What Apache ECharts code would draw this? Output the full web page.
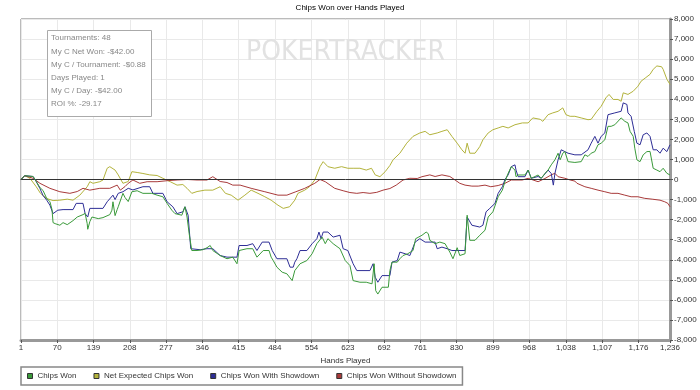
<!DOCTYPE html>
<html>
<head>
<meta charset="utf-8">
<script src="https://cdn.jsdelivr.net/npm/echarts@6/dist/echarts.min.js"></script>
<style>
html,body{margin:0;padding:0;background:#fff;}
#chart{width:700px;height:390px;}
</style>
</head>
<body>
<div id="chart"></div>
<script>
var titleText = 'Chips Won over Hands Played';
var xAxisName = 'Hands Played';
var seriesNames = ['Chips Won', 'Net Expected Chips Won', 'Chips Won With Showdown', 'Chips Won Without Showdown'];
var xTicks = [1,70,139,208,277,346,415,484,554,623,692,761,830,899,968,1038,1107,1176,1236];
var statLines = ['Tournaments: 48','My C Net Won: -$42.00','My C / Tournament: -$0.88','Days Played: 1','My C / Day: -$42.00','ROI %: -29.17'];
var watermark = 'POKERTRACKER';

var chipsWon = [
[1,0],[8,190],[24,150],[30,-100],[37,-400],[43,-550],[50,-950],[56,-1100],[60,-1500],[62,-2150],[66,-2200],[75,-2280],[81,-2150],[89,-2250],[100,-2050],[108,-1870],[119,-1750],[123,-1690],[127,-2200],[128,-2480],[132,-2100],[136,-1870],[148,-1950],[157,-1900],[170,-1750],[174,-1530],[176,-1110],[180,-1800],[184,-1500],[186,-1360],[195,-690],[199,-900],[205,-1100],[212,-610],[222,-560],[233,-690],[250,-690],[260,-780],[271,-860],[279,-1190],[288,-1530],[294,-1700],[307,-1780],[313,-1360],[317,-1870],[321,-2700],[326,-3540],[336,-3540],[347,-3500],[355,-3400],[361,-3290],[366,-3540],[380,-3790],[393,-3950],[404,-3870],[412,-4200],[416,-3540],[431,-3450],[442,-3450],[450,-3870],[462,-3540],[473,-3540],[477,-3870],[481,-4040],[488,-4370],[498,-4620],[507,-4700],[517,-5040],[522,-4540],[532,-4200],[545,-4040],[555,-3700],[564,-3200],[574,-2870],[580,-3200],[585,-2950],[595,-3200],[608,-3450],[618,-4040],[627,-4290],[633,-5040],[646,-5120],[658,-5120],[669,-5200],[673,-4200],[676,-5540],[680,-5710],[688,-5370],[700,-5370],[703,-4540],[707,-4120],[717,-4120],[722,-3950],[728,-3790],[737,-3700],[747,-3540],[752,-2950],[764,-2780],[772,-2620],[776,-2700],[779,-3030],[789,-3200],[798,-3120],[808,-3200],[817,-3620],[823,-3950],[831,-3400],[836,-3790],[846,-3700],[850,-1780],[855,-3030],[865,-3030],[874,-2780],[884,-2530],[890,-1870],[899,-1610],[909,-860],[917,-530],[922,-100],[928,310],[934,640],[941,470],[943,140],[947,225],[960,225],[966,470],[972,60],[985,225],[991,60],[998,300],[1004,470],[1010,730],[1017,980],[1023,1310],[1027,980],[1032,1310],[1036,1390],[1042,890],[1055,850],[1067,890],[1074,1230],[1080,1150],[1086,1310],[1093,1390],[1099,1730],[1105,1810],[1112,1980],[1118,2650],[1124,2650],[1131,2730],[1143,3070],[1150,2900],[1156,2820],[1160,2400],[1166,2150],[1169,1560],[1173,980],[1179,890],[1185,1230],[1192,1390],[1198,1400],[1204,560],[1211,470],[1217,390],[1223,560],[1226,470],[1230,310],[1236,225]
];

var netExpected = [
[1,0],[8,190],[18,60],[30,-360],[38,-690],[50,-950],[62,-1050],[75,-1030],[89,-980],[100,-1030],[113,-780],[127,-360],[132,-110],[138,-190],[151,-110],[157,-25],[165,560],[170,640],[180,470],[186,230],[195,-190],[205,-100],[212,390],[222,350],[233,300],[246,230],[260,200],[271,60],[285,-110],[298,-280],[309,-250],[317,-440],[326,-690],[336,-600],[351,-530],[366,-530],[380,-360],[390,-690],[401,-780],[414,-1030],[427,-780],[439,-530],[452,-690],[465,-860],[477,-1030],[490,-1280],[500,-1440],[512,-1360],[522,-1030],[528,-690],[541,-530],[550,-360],[560,-25],[570,640],[576,890],[585,640],[598,560],[611,640],[623,560],[633,560],[646,560],[658,470],[668,560],[675,230],[684,140],[694,390],[703,700],[709,980],[722,1310],[735,1810],[747,2150],[760,2320],[770,2400],[779,2230],[793,2320],[802,2400],[812,2480],[821,2150],[831,1810],[840,1480],[846,1310],[850,1810],[855,1310],[865,1310],[874,1640],[880,1980],[890,2320],[899,2480],[909,2570],[918,2650],[928,2570],[941,2730],[955,2820],[966,2820],[975,3070],[989,3000],[994,2900],[1004,3230],[1013,3320],[1023,3400],[1032,3570],[1038,3230],[1046,3150],[1055,3150],[1067,3070],[1080,2980],[1086,3000],[1097,3400],[1105,3650],[1114,4070],[1120,4240],[1128,3990],[1137,3990],[1143,3900],[1147,4320],[1156,4240],[1166,4400],[1175,4650],[1181,4900],[1190,5080],[1198,5240],[1204,5490],[1211,5660],[1220,5620],[1223,5490],[1230,5000],[1236,4740]
];

var withShowdown = [
[1,0],[8,190],[24,150],[30,-100],[37,-450],[43,-800],[50,-1030],[56,-1280],[62,-1700],[71,-1530],[81,-1500],[100,-1500],[106,-1190],[119,-1190],[123,-1700],[128,-1870],[132,-1440],[157,-1440],[165,-1110],[176,-780],[180,-1000],[186,-690],[195,-610],[205,-440],[214,-520],[233,-360],[246,-360],[252,-690],[271,-690],[279,-1110],[290,-1360],[298,-1700],[309,-1610],[313,-1360],[319,-1780],[324,-3450],[342,-3500],[355,-3450],[366,-3450],[380,-3790],[393,-3870],[412,-3870],[416,-3290],[431,-3290],[442,-3200],[450,-3540],[460,-3120],[473,-3120],[479,-3540],[488,-3950],[507,-3950],[513,-4370],[519,-4370],[522,-4120],[526,-3950],[532,-3540],[545,-3540],[555,-3200],[564,-2950],[568,-2620],[572,-2950],[576,-2620],[585,-2620],[595,-2870],[608,-2780],[614,-3450],[623,-3540],[633,-4200],[640,-4540],[665,-4540],[671,-4200],[675,-4870],[680,-5120],[688,-4790],[703,-4790],[707,-4120],[717,-4040],[722,-3620],[732,-3700],[741,-3790],[751,-3120],[760,-2950],[770,-3120],[789,-3120],[793,-3450],[802,-3370],[812,-3450],[821,-3540],[846,-3540],[850,-1870],[859,-2280],[874,-2370],[880,-2280],[886,-1610],[893,-1440],[903,-1190],[909,-690],[917,-360],[922,0],[928,230],[934,640],[941,730],[943,470],[947,140],[960,140],[966,470],[972,60],[985,150],[991,60],[1004,470],[1010,300],[1014,-280],[1017,300],[1023,980],[1029,1480],[1042,1310],[1055,1230],[1067,1230],[1080,1480],[1086,1810],[1093,2150],[1099,1810],[1105,2150],[1112,2320],[1118,3230],[1131,3320],[1143,3400],[1147,3820],[1154,3740],[1156,3320],[1162,3150],[1168,2400],[1173,1810],[1179,1730],[1185,2230],[1192,2320],[1198,2150],[1204,1480],[1211,1480],[1217,1310],[1223,1560],[1230,1390],[1236,1730]
];

var withoutShowdown = [
[1,0],[8,190],[24,60],[37,-190],[56,-440],[75,-610],[94,-690],[108,-600],[119,-440],[132,-530],[151,-440],[170,-440],[184,-280],[190,-530],[199,-350],[205,-190],[214,-25],[227,-190],[241,-110],[260,-110],[279,-60],[298,-25],[317,0],[336,-25],[355,-25],[366,140],[380,-100],[393,-150],[404,-280],[418,-280],[439,-440],[465,-610],[490,-780],[507,-780],[524,-610],[541,-440],[560,-190],[570,0],[580,-110],[598,-440],[614,-560],[627,-650],[640,-690],[652,-650],[665,-690],[678,-640],[690,-530],[703,-450],[715,-280],[728,-25],[741,60],[755,50],[764,140],[779,230],[789,150],[802,230],[817,150],[827,-25],[836,-190],[846,-280],[859,-330],[871,-330],[884,-280],[895,-360],[909,-300],[922,-190],[934,-25],[955,-25],[966,60],[985,-110],[998,50],[1010,230],[1017,310],[1023,140],[1036,60],[1046,-25],[1055,-80],[1059,-190],[1074,-360],[1086,-440],[1099,-530],[1112,-610],[1124,-690],[1137,-690],[1150,-780],[1162,-860],[1175,-860],[1188,-940],[1202,-980],[1217,-1030],[1226,-1110],[1232,-1190],[1236,-1360]
];

var colors = ['#3a9a3a', '#b3b33c', '#2e2e96', '#a83a3a'];
var FONT = '"Liberation Sans", Arial, sans-serif';
function fmt(v){ return Number(v).toLocaleString('en-US'); }

var chart = echarts.init(document.getElementById('chart'), null, {renderer:'canvas'});
function lineSeries(name, data, color, z){
  return {name:name, type:'line', data:data, showSymbol:false, symbol:'none', z:z,
    lineStyle:{color:color, width:1}, itemStyle:{color:color}, animation:false};
}
var s0 = lineSeries(seriesNames[0], chipsWon, colors[0], 6);
var s1 = lineSeries(seriesNames[1], netExpected, colors[1], 3);
var s2 = lineSeries(seriesNames[2], withShowdown, colors[2], 5);
var s3 = lineSeries(seriesNames[3], withoutShowdown, colors[3], 4);
s3.markLine = {silent:true, symbol:['none','none'], label:{show:false}, animation:false,
  lineStyle:{color:'#333', width:1, type:'solid'}, data:[{yAxis:0}]};

chart.setOption({
  animation:false,
  backgroundColor:'#fff',
  textStyle:{fontFamily:FONT},
  title:{text:titleText, left:'center', top:4, padding:0,
    textStyle:{fontSize:8, fontWeight:'normal', color:'#000', fontFamily:FONT}},
  grid:{left:21, right:30, top:19, bottom:50, show:true, borderColor:'#777', borderWidth:1, backgroundColor:'transparent'},
  legend:{left:21, top:367, padding:[5,6,5,6], itemGap:17, itemWidth:5, itemHeight:5, icon:'rect',
    borderColor:'#888', borderWidth:1.5, data:seriesNames,
    itemStyle:{borderColor:'#333', borderWidth:1},
    textStyle:{fontSize:8, color:'#333', fontFamily:FONT}},
  xAxis:{type:'value', min:1, max:1236, position:'bottom',
    name:xAxisName, nameLocation:'middle', nameGap:16,
    nameTextStyle:{fontSize:8, color:'#333', fontFamily:FONT},
    axisLine:{show:true, onZero:false, lineStyle:{color:'#999', width:3}},
    axisTick:{show:true, length:3, inside:false, customValues:xTicks, lineStyle:{color:'#555'}},
    axisLabel:{customValues:xTicks, margin:4, fontSize:8, color:'#333', fontFamily:FONT, formatter:fmt},
    splitLine:{show:true, lineStyle:{color:'#e9e9e9', width:1}}},
  yAxis:{type:'value', position:'right', min:-8000, max:8000, interval:1000,
    axisLine:{show:true, lineStyle:{color:'#999', width:3}},
    axisTick:{show:true, length:3, lineStyle:{color:'#555'}},
    axisLabel:{margin:4, fontSize:8, color:'#333', fontFamily:FONT, formatter:fmt},
    splitLine:{show:true, lineStyle:{color:'#e9e9e9', width:1}}},
  graphic:[
    {type:'text', left:246, top:39, z:1, silent:true,
      style:{text:watermark, font:'28px "DejaVu Sans Condensed", "DejaVu Sans", sans-serif', fill:'#e2e2e2'}},
    {type:'rect', left:47, top:30, z:100, zlevel:1, silent:true,
      shape:{x:0, y:0, width:104, height:86}, style:{fill:'#fff', stroke:'#aaa', lineWidth:1}},
    {type:'text', left:51, top:31.5, z:101, zlevel:1, silent:true,
      style:{text:statLines.join('\n'), font:'8px ' + FONT, fill:'#888', lineHeight:13.2}}
  ],
  series:[s0, s1, s2, s3]
});
</script>
</body>
</html>
